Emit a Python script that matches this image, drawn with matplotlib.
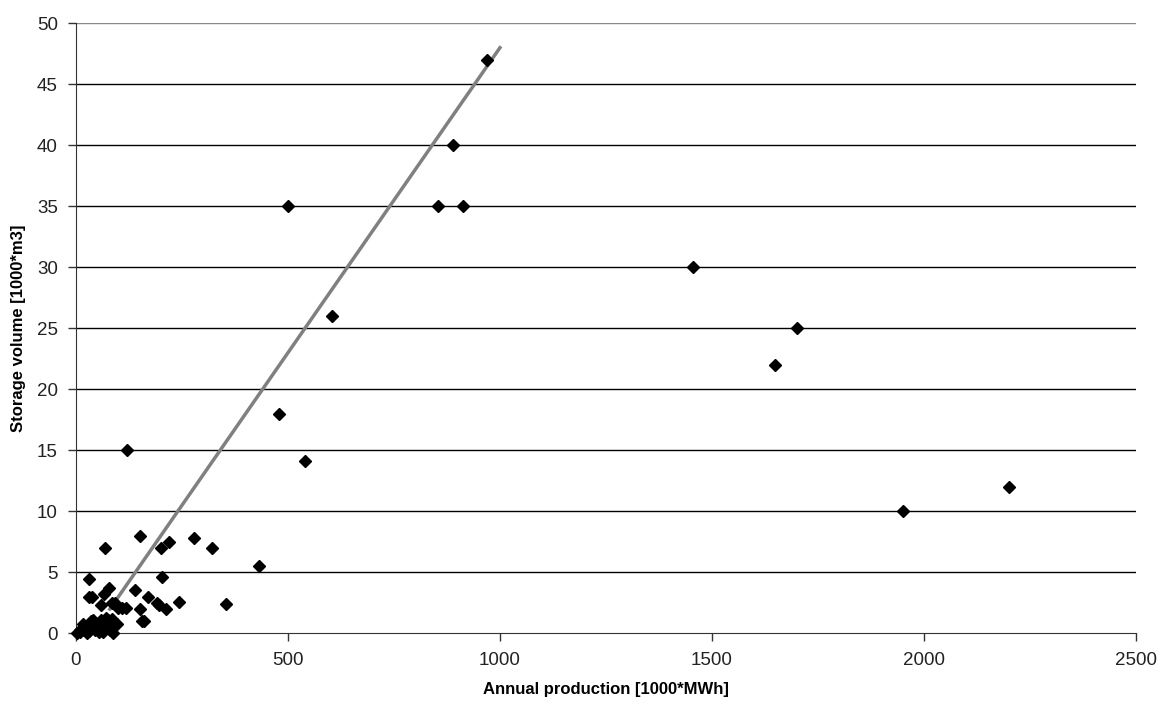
import numpy as np
import matplotlib.pyplot as plt

plt.rcParams['font.family'] = ['Liberation Sans', 'DejaVu Sans']

# annual production [1000*MWh] and storage volume [1000*m3] per plant
production = [
    500, 855, 913, 890, 970, 605, 478, 540, 120, 1455, 1700, 1650, 1950, 2200,
    152, 68, 200, 219, 278, 320, 431, 32, 202, 79, 31, 38, 66, 140, 169,
    60, 84, 92, 99, 108, 117, 152, 191, 197, 212, 243, 355, 155, 160, 88,
    2, 9, 17, 25, 29, 35, 41, 45, 52, 55, 60, 60, 68, 72, 76, 96,
    15, 22, 38, 48, 65, 80, 10, 30, 85, 70,
]
storage = [
    35, 35, 35, 40, 47, 26, 18, 14.1, 15, 30, 25, 22, 10, 12,
    8, 7, 7, 7.5, 7.8, 7, 5.5, 4.5, 4.6, 3.7, 3, 3, 3.2, 3.6, 3,
    2.3, 2.5, 2.5, 2.05, 2.1, 2.05, 2, 2.5, 2.3, 2, 2.6, 2.4, 1, 1, 0,
    0, 0.27, 0.8, 0, 0.55, 1.0, 1.1, 0.27, 0.7, 0.1, 1.1, 0.27, 0.55, 0.9, 1.1, 0.8,
    0.3, 0.5, 0.6, 0.4, 0.15, 0.3, 0.1, 0.2, 1.2, 1.3,
]

# linear trend drawn over part of the range
trend_slope = 0.05
trend_intercept = -2.0
trend_x = [80, 1000]

fig = plt.figure(figsize=(11.68, 7.07), dpi=100)
ax = fig.add_axes([0.065, 0.104, 0.9075, 0.863])

for yv in range(5, 51, 5):
    ax.axhline(yv, color='black' if yv < 50 else '#888888', lw=1.0, zorder=1)

tx = np.array(trend_x)
ax.plot(tx, trend_slope * tx + trend_intercept, color='#808080', lw=2.5, zorder=2)

ax.plot(production, storage, linestyle='none', marker='D', ms=6,
        color='black', zorder=3, clip_on=False)

ax.set_xlim(0, 2500)
ax.set_ylim(0, 50)
ax.set_xticks(range(0, 2501, 500))
ax.set_yticks(range(0, 51, 5))

ax.spines['left'].set_color('#333333')
ax.spines['bottom'].set_color('#333333')
ax.spines['top'].set_visible(False)
ax.spines['right'].set_visible(False)
ax.tick_params(axis='both', direction='out', length=6, width=1, color='#333333',
               labelsize=13.5, labelcolor='#222222', pad=7)

ax.set_xlabel('Annual production [1000*MWh]', fontsize=12, fontweight='bold', labelpad=10)
ax.set_ylabel('Storage volume [1000*m3]', fontsize=12, fontweight='bold', labelpad=8)

fig.savefig('out.png', dpi=100)
